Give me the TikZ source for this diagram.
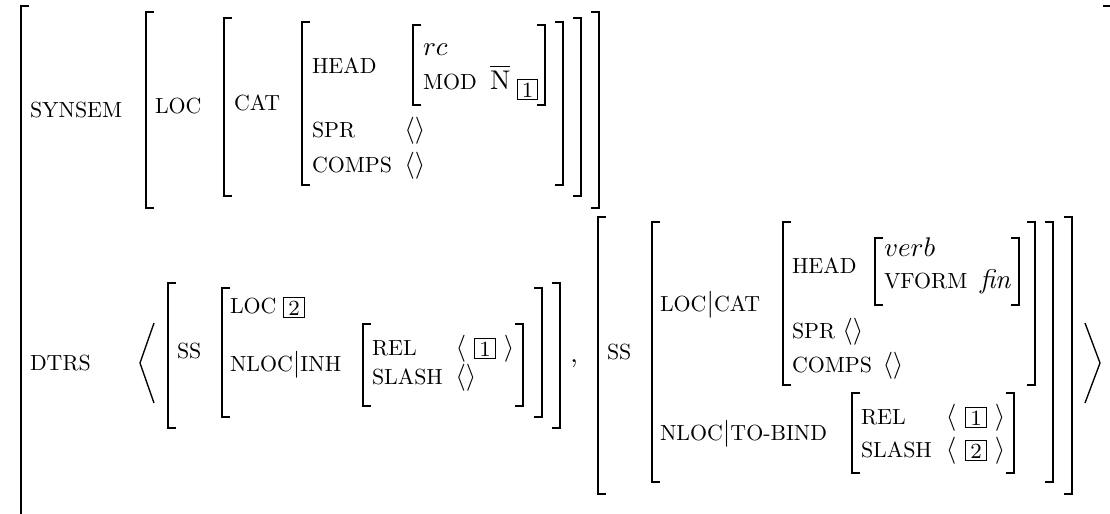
\documentclass[tikz,border=0pt]{standalone}
\usepackage{amsmath}
\usepackage{graphicx}
% feature names: reduced capitals
\newcommand\featname[1]{\scalebox{0.81}{#1}}
\newcommand\avmL[3]{\draw[brk] (#1+8,#2) -| (#1,#3) -- (#1+8,#3);}
\newcommand\avmR[3]{\draw[brk] (#1-8,#2) -| (#1,#3) -- (#1-8,#3);}
\begin{document}
\begin{tikzpicture}[x=0.37pt,y=-0.37pt,
  lab/.style={anchor=base west,inner sep=0pt,outer sep=0pt},
  val/.style={anchor=base,inner sep=0pt,outer sep=0pt},
  tag/.style={draw,line width=0.4pt,anchor=base,font=\footnotesize,
              inner xsep=1.6pt,inner ysep=1pt,outer sep=0pt},
  brk/.style={line width=0.8pt},
  ang/.style={line width=0.5pt}]
\useasboundingbox (0,0) rectangle (1110,513);
\fill[white] (0,0) rectangle (1110,513);
\clip (0,0) rectangle (1110,513);

% outermost structure
\avmL{21}{6}{540}
\avmR{1111}{6}{540}

% SYNSEM value
\node[lab] (synsem) at (30,117) {\featname{SYNSEM}};
\avmL{146}{12}{208} \avmR{599}{12}{208}
\node[lab] (loc1) at (155,113) {\featname{LOC}};
\avmL{224}{18}{196} \avmR{581}{18}{196}
\node[lab] (cat1) at (234,110) {\featname{CAT}};
\avmL{302}{22}{185} \avmR{563}{22}{185}
\node[lab] (head1) at (312,73) {\featname{HEAD}};
\avmL{413}{25}{105} \avmR{545}{25}{105}
\node[lab] (rc) at (423,55) {$rc$};
\node[lab] (mod) at (423,89) {\featname{MOD}};
\node[lab] (nbar) at (490,89) {$\overline{\mathrm{N}}$};
\node[tag] (tag1a) at (527.5,97) {1};
\node[lab] (spr1) at (312,137) {\featname{SPR}};
\node[val] (spr1v) at (415,137) {$\langle\rangle$};
\node[lab] (comps1) at (312,172) {\featname{COMPS}};
\node[val] (comps1v) at (415,172) {$\langle\rangle$};

% DTRS list
\node[lab] (dtrs) at (30,370) {\featname{DTRS}};
\draw[ang] (154,323) -- (140,363) -- (154,403);
\draw[ang] (1085,323) -- (1100,363) -- (1085,403);

% first daughter
\avmL{168}{283}{428} \avmR{560}{283}{428}
\node[lab] (ss1) at (177,358) {\featname{SS}};
\avmL{222}{288}{417} \avmR{542}{288}{417}
\node[lab] (loc2) at (230,313) {\featname{LOC}};
\node[tag] (tag2a) at (294,315) {2};
\node[lab] (nlocinh) at (230,371) {\featname{NLOC}$|$\featname{INH}};
\avmL{363}{324}{406} \avmR{523}{324}{406}
\node[lab] (rel1) at (372,355) {\featname{REL}};
\node[val] (rel1l) at (461,355) {$\langle$};
\node[tag] (tag1b) at (485,356) {1};
\node[val] (rel1r) at (509,355) {$\rangle$};
\node[lab] (slash1) at (372,384) {\featname{SLASH}};
\node[val] (slash1v) at (466,384) {$\langle\rangle$};
\node[val] (comma) at (574,362) {,};

% second daughter
\avmL{598}{217}{494} \avmR{1072}{217}{494}
\node[lab] (ss2) at (607,359) {\featname{SS}};
\avmL{652}{222}{482} \avmR{1053}{222}{482}
\node[lab] (loccat) at (660,311) {\featname{LOC}$|$\featname{CAT}};
\avmL{783}{222}{385} \avmR{1035}{222}{385}
\node[lab] (head2) at (792,273) {\featname{HEAD}};
\avmL{875}{238}{305} \avmR{1019}{238}{305}
\node[lab] (verb) at (884,256) {$verb$};
\node[lab] (vform) at (884,288) {\featname{VFORM}};
\node[lab] (fin) at (980,288) {\textit{fin}};
\node[lab] (spr2) at (792,338) {\featname{SPR}};
\node[val] (spr2v) at (853,338) {$\langle\rangle$};
\node[lab] (comps2) at (792,372) {\featname{COMPS}};
\node[val] (comps2v) at (893,372) {$\langle\rangle$};
\node[lab] (tobind) at (660,440) {\featname{NLOC}$|$\featname{TO-BIND}};
\avmL{852}{393}{473} \avmR{1014}{393}{473}
\node[lab] (rel2) at (861,424) {\featname{REL}};
\node[val] (rel2l) at (951,424) {$\langle$};
\node[tag] (tag1c) at (976,425) {1};
\node[val] (rel2r) at (1000,424) {$\rangle$};
\node[lab] (slash2) at (861,457) {\featname{SLASH}};
\node[val] (slash2l) at (951,457) {$\langle$};
\node[tag] (tag2b) at (976,458) {2};
\node[val] (slash2r) at (1000,457) {$\rangle$};
\end{tikzpicture}
\end{document}
